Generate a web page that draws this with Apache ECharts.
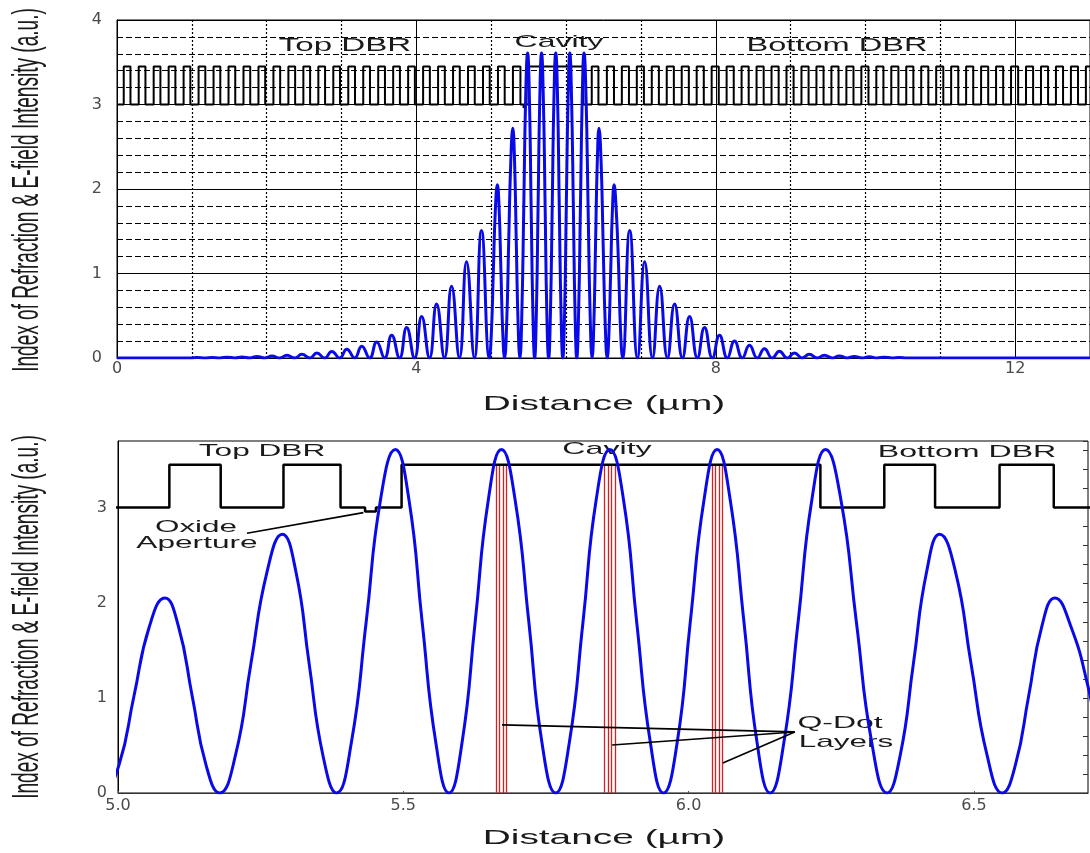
<!DOCTYPE html>
<html>
<head>
<meta charset="utf-8">
<title>VCSEL index and field</title>
<script src="https://cdn.jsdelivr.net/npm/echarts@6/dist/echarts.min.js"></script>
<style>
  html,body{margin:0;padding:0;background:#fff;}
  .myChartBox{width:1090px;height:853px;}
</style>
</head>
<body>
<div class="myChartBox" id="main"></div>
<script>
// 折射率的两个台阶 + 氧化孔径
var nLow = 3.0;
var nHigh = 3.45;
var nOxide = 2.96;

// 上DBR 跳变位置 (um)，从低折射率开始，依次 高/低
var topDbrEdges = [
  0.09,0.18,0.29,0.38,0.49,0.58,0.69,0.78,0.89,0.98,
  1.09,1.18,1.29,1.38,1.49,1.58,1.69,1.78,1.89,1.98,
  2.09,2.18,2.29,2.38,2.49,2.58,2.69,2.78,2.89,2.98,
  3.09,3.18,3.29,3.38,3.49,3.58,3.69,3.78,3.89,3.98,
  4.09,4.18,4.29,4.38,4.49,4.58,4.69,4.78,4.89,4.98,
  5.09,5.18,5.29,5.39
];
var oxideEdges = [5.433, 5.452];
var cavityEdges = [5.497, 6.231];
// 下DBR 跳变位置，从低折射率开始
var bottomDbrEdges = [
  6.343,6.432,6.545,6.64,6.745,6.84,6.945,7.04,
  7.145,7.24,7.345,7.44,7.545,7.64,7.745,7.84,7.945,8.04,
  8.145,8.24,8.345,8.44,8.545,8.64,8.745,8.84,8.945,9.04,
  9.145,9.24,9.345,9.44,9.545,9.64,9.745,9.84,9.945,10.04,
  10.145,10.24,10.345,10.44,10.545,10.64,10.745,10.84,10.945,11.04,
  11.145,11.24,11.345,11.44,11.545,11.64,11.745,11.84,11.945,12.04,
  12.145,12.24,12.345,12.44,12.545,12.64,12.745,12.84,12.945,13.04
];

// 量子点层 (每层几片)
var qdSheets = [5.663,5.669,5.675,5.681, 5.853,5.859,5.865,5.871, 6.041,6.047,6.053,6.059];
var qdTop = 3.45;

// 电场强度 |E|^2  [x, y]
var fieldLeft = [
  [0,0],[0.9,0],[0.975,0],[1.07,0.005],[1.175,0],[1.27,0.007],[1.375,0],[1.47,0.01],
  [1.575,0],[1.67,0.013],[1.775,0],[1.87,0.018],[1.975,0],[2.07,0.024],[2.175,0],[2.27,0.032],
  [2.375,0],[2.47,0.043],[2.575,0],[2.67,0.058],[2.775,0],[2.87,0.078],[2.975,0],[3.07,0.105],
  [3.175,0],[3.27,0.14],[3.375,0],[3.47,0.19],[3.575,0],[3.67,0.27],[3.775,0],[3.87,0.36],
  [3.975,0],[4.07,0.49],[4.175,0],[4.27,0.64],[4.375,0],[4.47,0.85],[4.575,0],[4.67,1.14],
  [4.775,0],[4.87,1.51]
];
var fieldCenter = [
  [4.975,0],[5.002,0.30],[5.028,1.02],[5.055,1.75],[5.082,2.05],[5.106,1.75],[5.13,1.02],[5.154,0.30],
  [5.178,0],[5.206,0.40],[5.233,1.36],[5.261,2.32],[5.288,2.72],[5.312,2.32],[5.335,1.36],[5.359,0.40],
  [5.383,0],[5.409,0.53],[5.435,1.8],[5.46,3.08],[5.486,3.61],[5.51,3.08],[5.533,1.8],[5.557,0.53],
  [5.58,0],[5.603,0.53],[5.626,1.8],[5.649,3.08],[5.672,3.61],[5.696,3.08],[5.72,1.8],[5.743,0.53],
  [5.767,0],[5.791,0.53],[5.815,1.8],[5.838,3.08],[5.862,3.61],[5.886,3.08],[5.909,1.8],[5.933,0.53],
  [5.956,0],[5.98,0.53],[6.003,1.8],[6.027,3.08],[6.05,3.61],[6.073,3.08],[6.097,1.8],[6.12,0.53],
  [6.143,0],[6.167,0.53],[6.192,1.8],[6.216,3.08],[6.24,3.61],[6.267,3.08],[6.294,1.8],[6.321,0.53],
  [6.348,0],[6.371,0.40],[6.394,1.36],[6.417,2.32],[6.44,2.72],[6.468,2.32],[6.495,1.36],[6.523,0.40],
  [6.55,0],[6.573,0.30],[6.596,1.02],[6.619,1.75],[6.642,2.05],[6.67,1.75],[6.70,1.12],[6.728,0.32],
  [6.755,0]
];
var fieldRight = [
  [6.85,1.51],[6.955,0],[7.05,1.14],[7.155,0],[7.25,0.85],[7.355,0],[7.45,0.64],[7.555,0],
  [7.65,0.49],[7.755,0],[7.85,0.36],[7.955,0],[8.05,0.27],[8.155,0],[8.25,0.2],[8.355,0],
  [8.45,0.15],[8.555,0],[8.65,0.11],[8.755,0],[8.85,0.08],[8.955,0],[9.05,0.06],[9.155,0],
  [9.25,0.045],[9.355,0],[9.45,0.034],[9.555,0],[9.65,0.025],[9.755,0],[9.85,0.019],[9.955,0],
  [10.05,0.014],[10.155,0],[10.25,0.01],[10.355,0],[10.45,0.007],[10.555,0],[13,0]
];

// 拼成台阶折线
function buildIndex() {
  var pts = [[0, nLow]];
  var level = nLow;
  function jump(x, next) {
    pts.push([x, level]);
    pts.push([x, next]);
    level = next;
  }
  topDbrEdges.forEach(function (x, i) { jump(x, i % 2 === 0 ? nHigh : nLow); });
  jump(oxideEdges[0], nOxide);
  jump(oxideEdges[1], nLow);
  jump(cavityEdges[0], nHigh);
  jump(cavityEdges[1], nLow);
  bottomDbrEdges.forEach(function (x, i) { jump(x, i % 2 === 0 ? nHigh : nLow); });
  pts.push([13.2, level]);
  return pts;
}
var indexData = buildIndex();
var fieldData = fieldLeft.concat(fieldCenter, fieldRight);

var FONT = '"Liberation Sans", Arial, sans-serif';
function txt(text, x, y, size, sx, rot) {
  return {
    type: 'text', x: x, y: y, scaleX: sx, rotation: rot || 0, silent: true,
    style: {
      text: text, font: size + 'px ' + FONT, fill: '#1a1a1a',
      textAlign: 'center', textVerticalAlign: 'middle', align: 'center', verticalAlign: 'middle'
    }
  };
}

var tickLabel = { fontFamily: '"DejaVu Sans", ' + FONT, fontSize: 16, color: '#4a4a4a' };

// 基于准备好的dom，初始化echarts实例
var myChart = echarts.init(document.getElementById('main'));
var option = {
  animation: false,
  backgroundColor: '#fff',
  grid: [
    { left: 117, top: 20, width: 988, height: 338, show: true, borderColor: '#000', borderWidth: 1 },
    { left: 118, top: 441, width: 970, height: 352, show: true, borderColor: '#000', borderWidth: 1 }
  ],
  xAxis: [
    {
      gridIndex: 0, type: 'value', min: 0, max: 13, interval: 4,
      axisLine: { lineStyle: { color: '#000' } },
      axisTick: { show: false },
      axisLabel: Object.assign({ margin: 3, showMaxLabel: false }, tickLabel),
      splitLine: { show: true, lineStyle: { color: '#000', width: 1 } },
      minorTick: { show: false, splitNumber: 4 },
      minorSplitLine: { show: true, lineStyle: { color: '#000', width: 1.2, type: [2, 2] } }
    },
    {
      gridIndex: 1, type: 'value', min: 5, max: 6.7, interval: 0.5,
      axisLine: { lineStyle: { color: '#333' } },
      axisTick: { show: true, inside: true, length: 2, lineStyle: { color: '#555' } },
      axisLabel: Object.assign({ margin: 5, showMaxLabel: false,
        formatter: function (v) { return v.toFixed(1); } }, tickLabel),
      splitLine: { show: false }
    }
  ],
  yAxis: [
    {
      gridIndex: 0, type: 'value', min: 0, max: 4, interval: 1,
      axisLine: { lineStyle: { color: '#000' } },
      axisTick: { show: false },
      axisLabel: Object.assign({ margin: 15 }, tickLabel),
      splitLine: { show: true, lineStyle: { color: '#000', width: 1 } },
      minorTick: { show: false, splitNumber: 5 },
      minorSplitLine: { show: true, lineStyle: { color: '#000', width: 1, type: [6, 3] } }
    },
    {
      gridIndex: 1, type: 'value', min: 0, max: 3.7, interval: 1,
      axisLine: { lineStyle: { color: '#000' } },
      axisTick: { show: false },
      axisLabel: Object.assign({ margin: 11, showMaxLabel: false }, tickLabel),
      splitLine: { show: false }
    },
    {
      gridIndex: 1, type: 'value', position: 'right', min: 0, max: 3.7, interval: 1,
      axisLine: { show: false },
      axisTick: { show: true, inside: true, length: 5, lineStyle: { color: '#333' } },
      minorTick: { show: true, splitNumber: 5, length: 5, lineStyle: { color: '#333' } },
      axisLabel: { show: false },
      splitLine: { show: false }
    }
  ],
  series: [
    {
      name: 'index-top', type: 'line', xAxisIndex: 0, yAxisIndex: 0,
      data: indexData, showSymbol: false, symbol: 'none', z: 2,
      lineStyle: { color: '#000', width: 2 }
    },
    {
      name: 'field-top', type: 'line', xAxisIndex: 0, yAxisIndex: 0,
      data: fieldData, showSymbol: false, symbol: 'none', smooth: 0.5, z: 3,
      lineStyle: { color: '#0a0ae8', width: 3 }
    },
    {
      name: 'index-bottom', type: 'line', xAxisIndex: 1, yAxisIndex: 1,
      data: indexData, showSymbol: false, symbol: 'none', z: 2,
      lineStyle: { color: '#000', width: 2.5 },
      markLine: {
        z: 2, silent: true, symbol: 'none', label: { show: false },
        lineStyle: { color: '#d42222', width: 1.3, type: 'solid' },
        data: qdSheets.map(function (x) { return [{ coord: [x, 0] }, { coord: [x, qdTop] }]; })
      }
    },
    {
      name: 'field-bottom', type: 'line', xAxisIndex: 1, yAxisIndex: 1,
      data: fieldData, showSymbol: false, symbol: 'none', smooth: 0.5, z: 3,
      lineStyle: { color: '#0a0ae8', width: 3 },
      markLine: {
        z: 4, silent: true, symbol: 'none', label: { show: false },
        lineStyle: { color: '#000', width: 1.6, type: 'solid' },
        data: [
          [{ coord: [6.186, 0.642] }, { coord: [5.673, 0.716] }],
          [{ coord: [6.186, 0.642] }, { coord: [5.866, 0.505] }],
          [{ coord: [6.186, 0.642] }, { coord: [6.06, 0.316] }],
          [{ coord: [5.226, 2.73] }, { coord: [5.43, 2.947] }]
        ]
      }
    }
  ],
  graphic: [
    txt('Top DBR', 345, 46, 18, 1.84),
    txt('Cavity', 559, 42, 17, 1.88),
    txt('Bottom DBR', 837, 46, 18, 1.81),
    txt('Index of Refraction & E-field Intensity (a.u.)', 28, 190, 36, 0.53, Math.PI / 2),
    txt('Distance (\u00b5m)', 604, 404, 21, 1.85),
    txt('Top DBR', 262, 451, 17, 1.86),
    txt('Cavity', 607, 449, 17, 1.89),
    txt('Bottom DBR', 967, 452, 17, 1.89),
    txt('Oxide', 196, 527, 17, 1.85),
    txt('Aperture', 197, 543, 17, 1.86),
    txt('Q-Dot', 840, 723, 17, 1.88),
    txt('Layers', 846, 742, 17, 1.85),
    txt('Index of Refraction & E-field Intensity (a.u.)', 28, 617, 36, 0.53, Math.PI / 2),
    txt('Distance (\u00b5m)', 604, 838, 21, 1.85)
  ]
};
// 绘制图表
myChart.setOption(option);
</script>
</body>
</html>
